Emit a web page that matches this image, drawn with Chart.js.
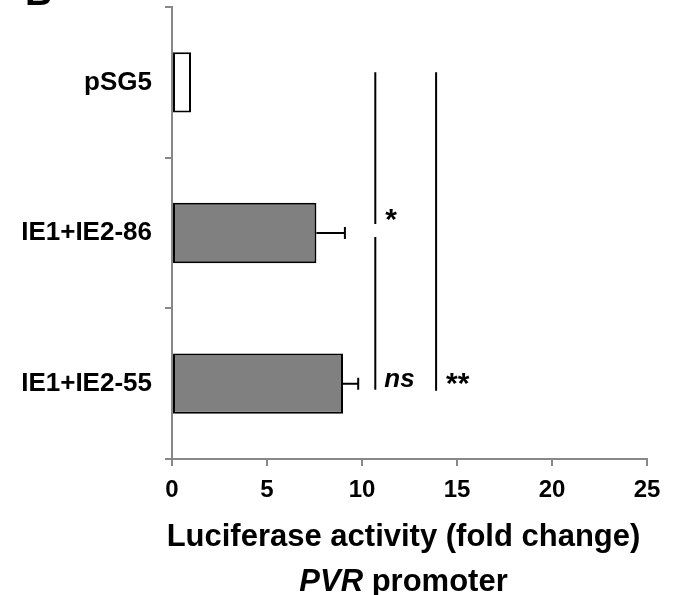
<!DOCTYPE html>
<html>
<head>
<meta charset="utf-8">
<script src="https://cdn.jsdelivr.net/npm/chart.js@4/dist/chart.umd.min.js"></script>
<style>
  html, body { margin: 0; padding: 0; background: #fff; }
  #wrap { width: 685px; height: 595px; }
</style>
</head>
<body>
<div id="wrap"><canvas id="chart"></canvas></div>
<script>
const labels = ['pSG5', 'IE1+IE2-86', 'IE1+IE2-55'];
const foldChange = [1.0, 7.6, 9.0];
const sem = [0, 1.5, 0.8];
const barColors = ['#ffffff', '#808080', '#808080'];
const xMin = 0;
const xMax = 25;
const xStep = 5;

const FONT = "'Liberation Sans', Arial, sans-serif";

// error bars, significance lines and the two-line axis title
const extras = {
  id: 'extras',
  afterDatasetsDraw(chart) {
    const ctx = chart.ctx;
    const xs = chart.scales.x;
    const ys = chart.scales.y;
    ctx.save();
    ctx.strokeStyle = '#000';
    ctx.lineWidth = 2;

    foldChange.forEach((v, i) => {
      if (!sem[i]) return;
      const cy = ys.getPixelForValue(i);
      const x0 = xs.getPixelForValue(v);
      const x1 = xs.getPixelForValue(v + sem[i]);
      ctx.beginPath();
      ctx.moveTo(x0, cy);
      ctx.lineTo(x1, cy);
      ctx.moveTo(x1, cy - 6);
      ctx.lineTo(x1, cy + 6);
      ctx.stroke();
    });

    // comparison lines
    const l1 = xs.getPixelForValue(10.7);
    const l2 = xs.getPixelForValue(13.9);
    const y0 = ys.getPixelForValue(0);
    const y1 = ys.getPixelForValue(1);
    const y2 = ys.getPixelForValue(2);
    ctx.beginPath();
    ctx.moveTo(l1, y0 - 10); ctx.lineTo(l1, y1 - 9);
    ctx.moveTo(l1, y1 + 4); ctx.lineTo(l1, y2 + 6);
    ctx.moveTo(l2, y0 - 10); ctx.lineTo(l2, y2 + 7);
    ctx.stroke();

    ctx.fillStyle = '#000';
    ctx.textAlign = 'left';
    ctx.textBaseline = 'alphabetic';
    ctx.font = 'bold 30px ' + FONT;
    ctx.fillText('*', l1 + 10, y1 - 4);
    ctx.fillText('**', l2 + 10, y2 + 9);
    ctx.font = 'italic bold 26px ' + FONT;
    ctx.fillText('ns', l1 + 9, y2 + 3);
    ctx.restore();
  },
  afterDraw(chart) {
    const ctx = chart.ctx;
    const area = chart.chartArea;
    const cx = (area.left + area.right) / 2 - 6;
    ctx.save();
    ctx.fillStyle = '#000';
    ctx.textBaseline = 'alphabetic';

    ctx.font = 'bold 31px ' + FONT;
    ctx.textAlign = 'center';
    ctx.fillText('Luciferase activity (fold change)', cx, 546);

    const italicFont = 'italic bold 31px ' + FONT;
    const boldFont = 'bold 31px ' + FONT;
    ctx.font = italicFont;
    const wA = ctx.measureText('PVR').width;
    ctx.font = boldFont;
    const wB = ctx.measureText(' promoter').width;
    const start = cx - (wA + wB) / 2;
    ctx.textAlign = 'left';
    ctx.font = italicFont;
    ctx.fillText('PVR', start, 591);
    ctx.font = boldFont;
    ctx.fillText(' promoter', start + wA, 591);

    // panel letter
    ctx.font = 'bold 38px ' + FONT;
    ctx.fillText('B', 25, 5);
    ctx.restore();
  }
};

new Chart(document.getElementById('chart'), {
  type: 'bar',
  data: {
    labels: labels,
    datasets: [
      {
        data: foldChange,
        backgroundColor: barColors,
        borderColor: '#000',
        borderWidth: 2,
        borderSkipped: false,
        barPercentage: 0.4,
        categoryPercentage: 1,
      },
    ],
  },
  options: {
    indexAxis: 'y',
    responsive: true,
    maintainAspectRatio: false,
    animation: false,
    layout: {
      padding: { top: 7, right: 38, left: 0, bottom: 0 },
    },
    scales: {
      x: {
        min: xMin,
        max: xMax,
        afterFit: (s) => { s.height = 136; },
        grid: {
          drawOnChartArea: false,
          color: '#888',
          tickLength: 7,
          lineWidth: 2,
        },
        border: { color: '#888', width: 2 },
        ticks: {
          stepSize: xStep,
          color: '#000',
          padding: 10,
          font: { family: FONT, size: 24, weight: 'bold' },
        },
      },
      y: {
        offset: true,
        afterFit: (s) => {
          s.width = 172;
          s.paddingTop = 0;
          s.paddingBottom = 0;
        },
        grid: {
          offset: true,
          drawOnChartArea: false,
          color: '#888',
          tickLength: 7,
          lineWidth: 2,
        },
        border: { color: '#888', width: 2 },
        ticks: {
          color: '#000',
          padding: 13,
          font: { family: FONT, size: 26, weight: 'bold' },
        },
      },
    },
    plugins: {
      legend: { display: false },
      tooltip: { enabled: false },
    },
  },
  plugins: [extras],
});
</script>
</body>
</html>
